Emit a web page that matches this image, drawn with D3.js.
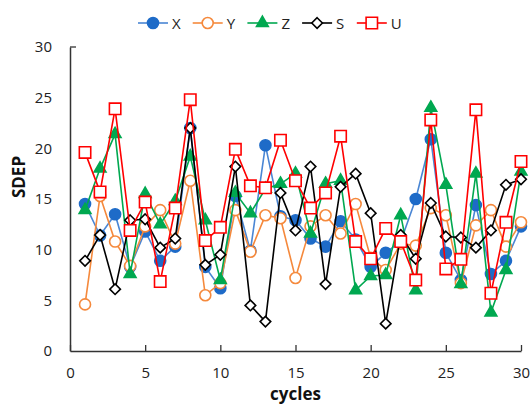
<!DOCTYPE html>
<html><head><meta charset="utf-8">
<script src="https://cdn.jsdelivr.net/npm/d3@7"></script>
<style>body{margin:0;background:#fff}svg{display:block;font-family:"Open Sans",sans-serif}</style>
</head><body>
<svg id="c" width="532" height="405"></svg>
<script>
const cycles = d3.range(1, 31);
const xTicks = [0, 5, 10, 15, 20, 25, 30];
const yTicks = [0, 5, 10, 15, 20, 25, 30];
const X = [14.5, 11.4, 13.5, 8.3, 11.8, 8.9, 10.3, 22.0, 8.3, 6.2, 15.3, 9.9, 20.3, 13.3, 12.9, 11.1, 10.3, 12.8, 11.0, 8.3, 9.7, 10.8, 15.0, 20.9, 9.7, 7.0, 14.4, 7.6, 8.9, 12.3];
const Y = [4.6, 15.3, 10.8, 8.4, 12.3, 13.9, 10.6, 16.8, 5.5, 6.7, 13.9, 9.8, 13.4, 13.1, 7.2, 12.3, 13.4, 11.6, 14.5, 9.2, 8.0, 10.6, 10.4, 14.1, 13.4, 6.7, 12.4, 13.9, 10.3, 12.7];
const Z = [13.9, 18.0, 21.4, 7.6, 15.5, 12.5, 14.8, 19.2, 12.9, 7.0, 15.6, 13.6, 16.0, 16.5, 17.5, 11.6, 16.5, 16.8, 6.0, 7.4, 7.5, 13.4, 6.0, 24.0, 16.4, 6.6, 17.5, 3.8, 8.0, 17.7];
const S = [8.9, 11.45, 6.1, 12.9, 13.0, 10.2, 11.1, 22.0, 8.5, 9.5, 18.2, 4.5, 2.9, 15.6, 11.9, 18.2, 6.6, 16.2, 17.5, 13.6, 2.7, 11.45, 9.1, 14.6, 11.3, 11.2, 10.2, 11.9, 16.4, 16.95];
const U = [19.6, 15.7, 23.9, 11.9, 14.7, 6.85, 14.1, 24.8, 10.9, 12.2, 19.9, 16.3, 16.1, 20.8, 16.8, 14.1, 15.6, 21.2, 10.8, 9.1, 12.1, 10.8, 7.0, 22.8, 8.1, 9.05, 23.8, 5.7, 12.7, 18.7];
const seriesNames = ["X", "Y", "Z", "S", "U"];

const series = [
  {name: "X", values: X, line: "#4A86D4", stroke: "#1E6BC8", fill: "#1E6BC8", shape: "circle"},
  {name: "Y", values: Y, line: "#F5893C", stroke: "#F5893C", fill: "#fff", shape: "circle"},
  {name: "Z", values: Z, line: "#00A850", stroke: "#00A850", fill: "#00A850", shape: "triangle"},
  {name: "S", values: S, line: "#000", stroke: "#000", fill: "#fff", shape: "diamond"},
  {name: "U", values: U, line: "#FF0000", stroke: "#FF0000", fill: "#fff", shape: "square"}
];

const svg = d3.select("#c");
const x = d3.scaleLinear().domain([0, 30]).range([70, 521]);
const y = d3.scaleLinear().domain([0, 30]).range([351, 47]);

function symPath(shape) {
  if (shape === "circle") return d3.symbol(d3.symbolCircle, Math.PI * 5.5 * 5.5)();
  if (shape === "triangle") return d3.symbol(d3.symbolTriangle, 60)();
  if (shape === "diamond") return "M0,-5.3L5.3,0L0,5.3L-5.3,0Z";
  if (shape === "square") return "M-5.7,-5.7H5.7V5.7H-5.7Z";
}

// axes
const xAxis = d3.axisBottom(x).tickValues(xTicks).tickSizeInner(-6).tickSizeOuter(0).tickPadding(16);
const gx = svg.append("g").attr("transform", `translate(0,${y(0)})`).call(xAxis);
gx.select(".domain").attr("stroke", "#333").attr("stroke-width", 1.5);
gx.selectAll(".tick line").attr("stroke", "#333").attr("stroke-width", 1.3);
gx.selectAll(".tick text").attr("font-size", 15).attr("fill", "#222").attr("font-family", "Open Sans");

const yAxis = d3.axisLeft(y).tickValues(yTicks).tickSize(0).tickPadding(18);
const gy = svg.append("g").attr("transform", `translate(${x(0)},0)`).call(yAxis);
gy.select(".domain").attr("stroke", "#333").attr("stroke-width", 1.5);
gy.selectAll(".tick text").attr("font-size", 15).attr("fill", "#222").attr("font-family", "Open Sans");
svg.append("line").attr("x1", x(0)).attr("x2", x(0) + 6).attr("y1", y(30)).attr("y2", y(30))
  .attr("stroke", "#333").attr("stroke-width", 1.3);

svg.append("text").attr("x", x(15)).attr("y", 400).attr("text-anchor", "middle")
  .attr("font-size", 17).attr("font-weight", "bold").attr("fill", "#111").text("cycles");
svg.append("text").attr("transform", "translate(25,177) rotate(-90)").attr("text-anchor", "middle")
  .attr("font-size", 17).attr("font-weight", "bold").attr("fill", "#111").text("SDEP");

// series
const line = d3.line().x((d, i) => x(cycles[i])).y(d => y(d));
series.forEach(s => {
  const g = svg.append("g");
  g.append("path").attr("d", line(s.values)).attr("fill", "none")
    .attr("stroke", s.line).attr("stroke-width", 1.6);
  g.selectAll("path.m").data(s.values).enter().append("path").attr("class", "m")
    .attr("d", symPath(s.shape))
    .attr("transform", (d, i) => `translate(${x(cycles[i])},${y(d)})`)
    .attr("fill", s.fill).attr("stroke", s.stroke).attr("stroke-width", 1.6);
});

// legend
const lg = svg.append("g").attr("transform", "translate(138,23)");
series.forEach((s, i) => {
  const g = lg.append("g").attr("transform", `translate(${i * 54.7},0)`);
  g.append("line").attr("x1", 0).attr("x2", 30).attr("stroke", s.line).attr("stroke-width", 1.6);
  g.append("path").attr("d", symPath(s.shape)).attr("transform", "translate(15,0)")
    .attr("fill", s.fill).attr("stroke", s.stroke).attr("stroke-width", 1.6);
  g.append("text").attr("x", 34).attr("y", 5.5).attr("font-size", 15).attr("fill", "#222").text(seriesNames[i]);
});
</script>
</body></html>
